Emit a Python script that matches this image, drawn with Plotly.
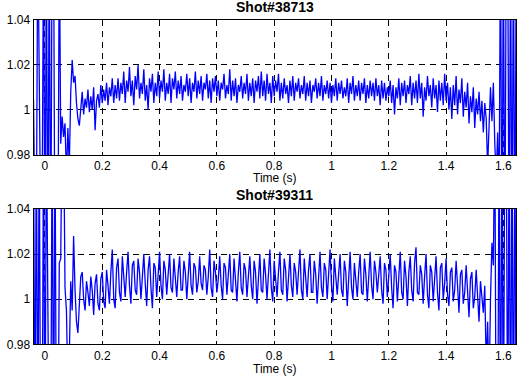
import plotly.graph_objects as go

# ---------------- data ----------------
t_start = -0.04
dt = 0.005

shot1_name = "Shot#38713"
shot1_values = [
    1.005, 0.95, 0.95, 1.08, 0.95, 0.95, 0.95, 1.08, 0.92, 1.08,
    0.92, 1.08, 0.92, 1.08, 1.08, 0.92, 0.92, 0.92, 1.08, 0.985,
    0.997, 0.988, 0.994, 0.97, 0.992, 0.975, 1.008, 1.022, 1.012, 1.015,
    1.003, 0.996, 0.993, 1.0, 1.008, 0.998, 1.005, 1.001, 1.009, 0.999,
    1.006, 1.0, 1.01, 0.991, 1.004, 1.007, 1.001, 1.011, 1.003, 1.009,
    1.004, 1.012, 1.002, 1.01, 1.006, 1.014, 1.003, 1.011,
    1.005, 1.014, 1.004, 1.012, 1.007, 1.017, 1.003, 1.013, 1.008, 1.019,
    1.006, 1.013, 1.002, 1.015, 1.009, 1.020, 1.005, 1.012, 1.007, 1.018,
    1.004, 1.011, 1.000, 1.014, 1.008, 1.016, 1.003, 1.012, 1.006, 1.017,
    1.005, 1.013, 1.008, 1.018, 1.004, 1.012, 1.007, 1.016, 1.003, 1.014,
    1.009, 1.017, 1.005, 1.013, 1.007, 1.015, 1.004, 1.011, 1.008, 1.016,
    1.006, 1.014, 1.003, 1.012, 1.008, 1.017, 1.005, 1.013, 1.007, 1.015,
    1.004, 1.012, 1.009, 1.016, 1.005, 1.013, 1.003, 1.014, 1.008, 1.015,
    1.006, 1.013, 1.004, 1.012, 1.009, 1.016, 1.005, 1.011, 1.007, 1.018,
    1.004, 1.013, 1.006, 1.014, 1.003, 1.011, 1.008, 1.015, 1.005, 1.012,
    1.007, 1.016, 1.004, 1.012, 1.006, 1.014, 1.003, 1.013, 1.008, 1.015,
    1.005, 1.017, 1.006, 1.013, 1.004, 1.016, 1.007, 1.012, 1.003, 1.015,
    1.006, 1.013, 1.008, 1.016, 1.004, 1.012, 1.005, 1.014, 1.007, 1.011,
    1.003, 1.013, 1.006, 1.015, 1.004, 1.012, 1.008, 1.014, 1.005, 1.011,
    1.007, 1.015, 1.004, 1.012, 1.006, 1.013, 1.003, 1.011, 1.008, 1.014,
    1.005, 1.012, 1.006, 1.015, 1.004, 1.011, 1.007, 1.013, 1.005, 1.012,
    1.003, 1.011, 1.006, 1.014, 1.004, 1.012, 1.007, 1.013, 1.005, 1.010,
    1.006, 1.014, 1.003, 1.012, 1.007, 1.015, 1.004, 1.011, 1.006, 1.013,
    1.004, 1.012, 1.007, 1.014, 1.003, 1.011, 1.005, 1.013, 1.006, 1.012,
    1.004, 1.014, 1.006, 1.011, 1.002, 1.013, 1.005, 1.012, 1.004, 1.010,
    1.006, 1.013, 1.003, 1.011, 0.998, 1.010, 1.005, 1.014, 1.002, 1.012,
    1.006, 1.013, 1.003, 1.011, 1.007, 1.015, 1.002, 1.012, 1.005, 1.013,
    1.003, 1.016, 1.005, 1.012, 0.997, 1.010, 1.004, 1.015, 1.006, 1.011,
    1.001, 1.014, 1.005, 1.011, 0.999, 1.013, 1.004, 1.012, 1.002, 1.016,
    1.004, 1.012, 1.000, 1.010, 0.996, 1.011, 1.002, 1.015, 0.998, 1.009,
    1.003, 1.014, 0.997, 1.008, 1.001, 1.012, 0.994, 1.006, 0.999, 1.010,
    0.992, 1.005, 0.998, 1.008, 0.995, 1.004, 0.990, 1.003, 0.996, 0.975,
    0.990, 1.010, 0.995, 1.012, 0.985, 0.970, 0.990, 0.960, 1.08, 0.92,
    1.08, 0.92, 1.08, 1.08, 0.92, 1.08, 0.92, 1.08, 0.92, 1.08,
]

shot2_name = "Shot#39311"
shot2_values = [
    1.08, 0.92, 1.08, 0.92, 1.08, 0.92, 0.92, 1.08, 0.92, 1.08,
    0.92, 0.92, 0.92, 1.08, 0.92, 1.08, 0.92, 0.92, 1.016, 1.018,
    1.08, 1.08, 1.005, 0.995, 0.96, 0.975, 1.008, 0.995, 1.028, 1.004,
    0.990, 0.985, 0.996, 1.010, 1.012, 1.000, 0.995, 1.008, 1.003, 0.997,
    1.010, 1.004, 0.993, 1.007, 1.011, 0.998, 0.995, 1.009, 1.012, 0.999,
    0.996, 1.013, 1.006, 0.998, 1.012, 1.022, 1.000, 0.996, 1.014, 1.018,
    1.003, 0.999,
    1.019, 1.009, 1.001, 1.012, 1.021, 1.006, 0.998, 1.015, 1.017, 1.004,
    1.002, 1.018, 1.012, 1.000, 1.008, 1.020, 1.007, 0.997, 1.013, 1.019,
    1.005, 0.996, 1.016, 1.014, 1.001, 1.009, 1.021, 1.006, 1.000, 1.017,
    1.013, 1.002, 1.010, 1.020, 1.005, 1.003, 1.018, 1.011, 1.001, 1.012,
    1.019, 1.004, 1.004, 1.017, 1.012, 1.000, 1.011, 1.021, 1.006, 1.002,
    1.016, 1.014, 1.003, 1.008, 1.019, 1.007, 1.004, 1.015, 1.013, 1.002,
    1.010, 1.022, 1.005, 1.001, 1.017, 1.012, 1.003, 1.009, 1.019, 1.006,
    1.000, 1.016, 1.014, 1.002, 1.011, 1.020, 1.004, 1.003, 1.018, 1.010,
    0.999, 1.012, 1.021, 1.005, 1.002, 1.016, 1.013, 1.001, 1.009, 1.019,
    1.006, 1.000, 1.017, 1.012, 0.998, 1.011, 1.020, 1.004, 1.003, 1.018,
    1.011, 1.000, 1.013, 1.022, 1.005, 0.999, 1.017, 1.010, 1.001, 1.012,
    1.021, 1.004, 1.002, 1.018, 1.013, 0.999, 1.010, 1.020, 1.006, 1.001,
    1.016, 1.012, 1.002, 1.011, 1.022, 1.004, 1.000, 1.018, 1.009, 1.001,
    1.013, 1.020, 1.003, 1.003, 1.017, 1.011, 0.998, 1.012, 1.021, 1.005,
    1.001, 1.016, 1.013, 1.000, 1.010, 1.022, 1.006, 0.999, 1.018, 1.011,
    1.002, 1.011, 1.020, 1.004, 1.001, 1.017, 1.012, 0.997, 1.013, 1.021,
    1.005, 1.000, 1.016, 1.010, 1.001, 1.012, 1.020, 1.003, 1.002, 1.018,
    1.011, 0.999, 1.010, 1.021, 1.006, 1.000, 1.017, 1.012, 1.003, 1.011,
    1.019, 1.004, 0.998, 1.016, 1.013, 1.001, 1.009, 1.020, 1.005, 0.996,
    1.015, 1.012, 0.999, 1.010, 1.021, 1.003, 1.000, 1.017, 1.010, 0.997,
    1.012, 1.019, 1.004, 0.999, 1.016, 1.023, 1.003, 1.002, 1.015, 1.011,
    0.998, 1.010, 1.020, 1.002, 0.996, 1.015, 1.012, 0.999, 1.009, 1.019,
    1.003, 0.995, 1.014, 1.016, 1.000, 1.007, 1.018, 1.002, 0.997, 1.012,
    1.014, 0.999, 1.004, 1.017, 1.006, 0.994, 1.011, 1.013, 0.998, 1.003,
    1.015, 1.005, 0.992, 1.009, 1.012, 0.996, 1.001, 1.013, 1.003, 0.990,
    1.008, 1.000, 0.994, 1.006, 0.970, 0.990, 0.960, 1.000, 1.025, 1.015,
    1.08, 0.92, 0.92, 1.08, 0.92, 1.08, 0.92, 1.08, 1.08, 0.92,
    1.08, 0.92, 1.08, 0.92, 1.08, 0.92,
]

x_tick_vals = [0, 0.2, 0.4, 0.6, 0.8, 1.0, 1.2, 1.4, 1.6]
x_tick_text = ["0", "0.2", "0.4", "0.6", "0.8", "1", "1.2", "1.4", "1.6"]
y_tick_vals = [0.98, 1.0, 1.02, 1.04]
y_tick_text = ["0.98", "1", "1.02", "1.04"]
x_label = "Time (s)"

# ---------------- figure ----------------
W, H = 517, 381


def times(n):
    return [t_start + dt * i for i in range(n)]


fig = go.Figure()
fig.add_trace(go.Scatter(x=times(len(shot1_values)), y=shot1_values, mode="lines",
                         line=dict(color="#0000FF", width=1.3), xaxis="x", yaxis="y",
                         showlegend=False, hoverinfo="skip"))
fig.add_trace(go.Scatter(x=times(len(shot2_values)), y=shot2_values, mode="lines",
                         line=dict(color="#0000FF", width=1.3), xaxis="x2", yaxis="y2",
                         showlegend=False, hoverinfo="skip"))

x_dom = [33.5 / W, 516 / W]
y1_dom = [1 - 155 / H, 1 - 19.5 / H]
y2_dom = [1 - 344.3 / H, 1 - 209 / H]

font = dict(family="Liberation Sans, Arial, sans-serif", size=12, color="black")

common_x = dict(range=[-0.04, 1.644], tickvals=x_tick_vals, ticktext=x_tick_text,
                showgrid=True, gridcolor="black", griddash="6px,5px", gridwidth=1,
                showline=True, linecolor="black", linewidth=1, mirror=True,
                zeroline=False, ticks="", tickfont=font, domain=x_dom,
                automargin=False)
common_y = dict(range=[0.98, 1.04], tickvals=y_tick_vals, ticktext=y_tick_text,
                showgrid=True, gridcolor="black", griddash="6px,5px", gridwidth=1,
                showline=True, linecolor="black", linewidth=1, mirror=True,
                zeroline=False, ticks="", tickfont=font, automargin=False)

fig.update_layout(
    template="none",
    width=W, height=H, margin=dict(l=0, r=0, t=0, b=0, pad=0),
    paper_bgcolor="white", plot_bgcolor="white",
    xaxis=dict(common_x, anchor="y"),
    yaxis=dict(common_y, domain=y1_dom, anchor="x"),
    xaxis2=dict(common_x, anchor="y2"),
    yaxis2=dict(common_y, domain=y2_dom, anchor="x2"),
    font=font,
)

cx = (x_dom[0] + x_dom[1]) / 2
title_font = dict(family="Liberation Sans, Arial, sans-serif", size=14, color="black")
fig.add_annotation(text="<b>" + shot1_name + "</b>", x=cx, y=1 - 6.5 / H, xref="paper", yref="paper",
                   showarrow=False, xanchor="center", yanchor="middle", font=title_font)
fig.add_annotation(text="<b>" + shot2_name + "</b>", x=cx, y=1 - 195 / H, xref="paper", yref="paper",
                   showarrow=False, xanchor="center", yanchor="middle", font=title_font)
fig.add_annotation(text=x_label, x=cx, y=1 - 177.5 / H, xref="paper", yref="paper",
                   showarrow=False, xanchor="center", yanchor="middle", font=font, borderpad=0)
fig.add_annotation(text=x_label, x=cx, y=1 - 368.5 / H, xref="paper", yref="paper",
                   showarrow=False, xanchor="center", yanchor="middle", font=font, borderpad=0)

fig.write_html("out.html", config={"displayModeBar": False},
               post_script="document.body.style.margin='0';document.body.style.overflow='hidden';")
